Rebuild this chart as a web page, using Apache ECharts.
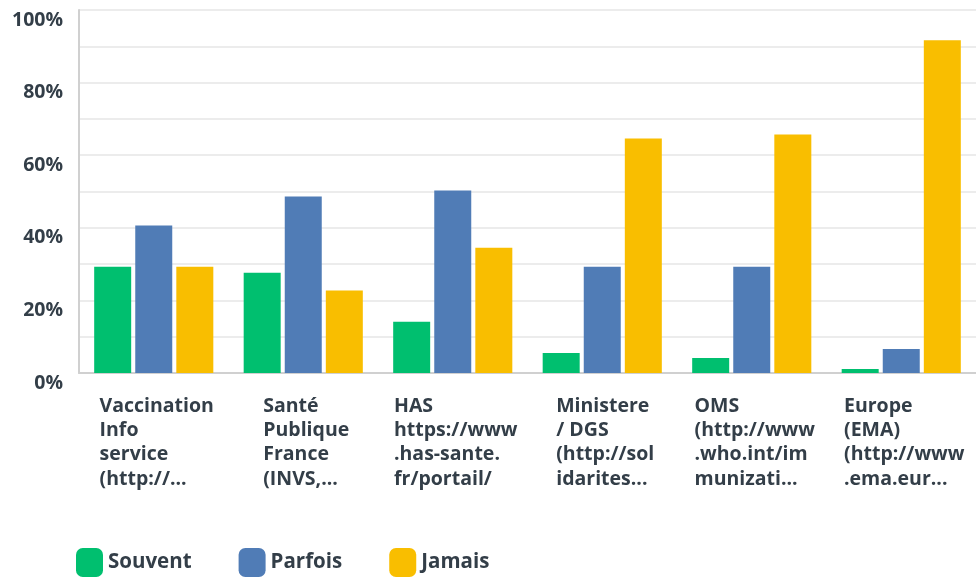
<!DOCTYPE html>
<html lang="fr">
<head>
    <meta charset="UTF-8">
    <title>Sources</title>
    <style>
        html, body { margin: 0; padding: 0; background: #fff; }
    </style>
</head>
<body>
<script src="https://cdn.jsdelivr.net/npm/echarts@6/dist/echarts.min.js"></script>
<div id="main" style="width: 976px;height:578px;"></div>

<script>
    // categories (libellés tronqués comme dans l'original)
    var categories = [
        'Vaccination\nInfo\nservice\n(http://...',
        'Santé\nPublique\nFrance\n(INVS,...',
        'HAS\nhttps://www\n.has-sante.\nfr/portail/',
        'Ministere\n/ DGS\n(http://sol\nidarites...',
        'OMS\n(http://www\n.who.int/im\nmunizati...',
        'Europe\n(EMA)\n(http://www\n.ema.eur...'
    ];
    var souvent = [29.3, 27.6, 14.1, 5.5, 4.1, 1.1];
    var parfois = [40.6, 48.6, 50.3, 29.3, 29.3, 6.6];
    var jamais = [29.3, 22.7, 34.5, 64.6, 65.7, 91.7];
    var yTicks = [0, 20, 40, 60, 80, 100];

    var font = 'Open Sans';
    var textColor = '#333e48';

    var myChart = echarts.init(document.getElementById('main'));

    function bar(name, data, color) {
        return {
            name: name,
            type: 'bar',
            data: data,
            barWidth: 37,
            barGap: '11%',
            itemStyle: {color: color},
            emphasis: {disabled: true}
        };
    }

    var option = {
        animation: false,
        textStyle: {fontFamily: font},
        grid: {left: 79, right: -7, top: 10, bottom: 205},
        legend: {
            left: 76,
            top: 548,
            padding: 0,
            itemWidth: 27,
            itemHeight: 29,
            itemGap: 47,
            icon: 'roundRect',
            textStyle: {color: textColor, fontSize: 20.5, fontWeight: 'bold', fontFamily: font},
            data: ['Souvent', 'Parfois', 'Jamais']
        },
        xAxis: {
            type: 'category',
            data: categories,
            axisLine: {lineStyle: {color: '#d0d0d0', width: 2}},
            axisTick: {show: false},
            axisLabel: {
                interval: 0,
                margin: 21,
                padding: [0, 0, 0, 6],
                formatter: function (v) {
                    return v.split('\n').map(function (l) { return '{a|' + l + '}'; }).join('\n');
                },
                rich: {
                    a: {
                        align: 'left',
                        color: textColor,
                        fontSize: 19.5,
                        fontWeight: 'bold',
                        fontFamily: font,
                        lineHeight: 24.3
                    }
                }
            }
        },
        yAxis: {
            type: 'value',
            min: 0,
            max: 100,
            interval: 10,
            axisLine: {show: true, lineStyle: {color: '#d0d0d0', width: 2}},
            axisTick: {show: false},
            splitLine: {lineStyle: {color: '#ececec', width: 2}},
            axisLabel: {
                margin: 16,
                color: textColor,
                fontSize: 19.5,
                fontWeight: 'bold',
                fontFamily: font,
                verticalAlign: 'top',
                lineHeight: 20,
                formatter: function (v) {
                    return yTicks.indexOf(v) >= 0 ? v + '%' : '';
                }
            }
        },
        series: [
            bar('Souvent', souvent, '#00bf6f'),
            bar('Parfois', parfois, '#507cb6'),
            bar('Jamais', jamais, '#f9be00')
        ]
    };

    myChart.setOption(option);
</script>
</body>
</html>
